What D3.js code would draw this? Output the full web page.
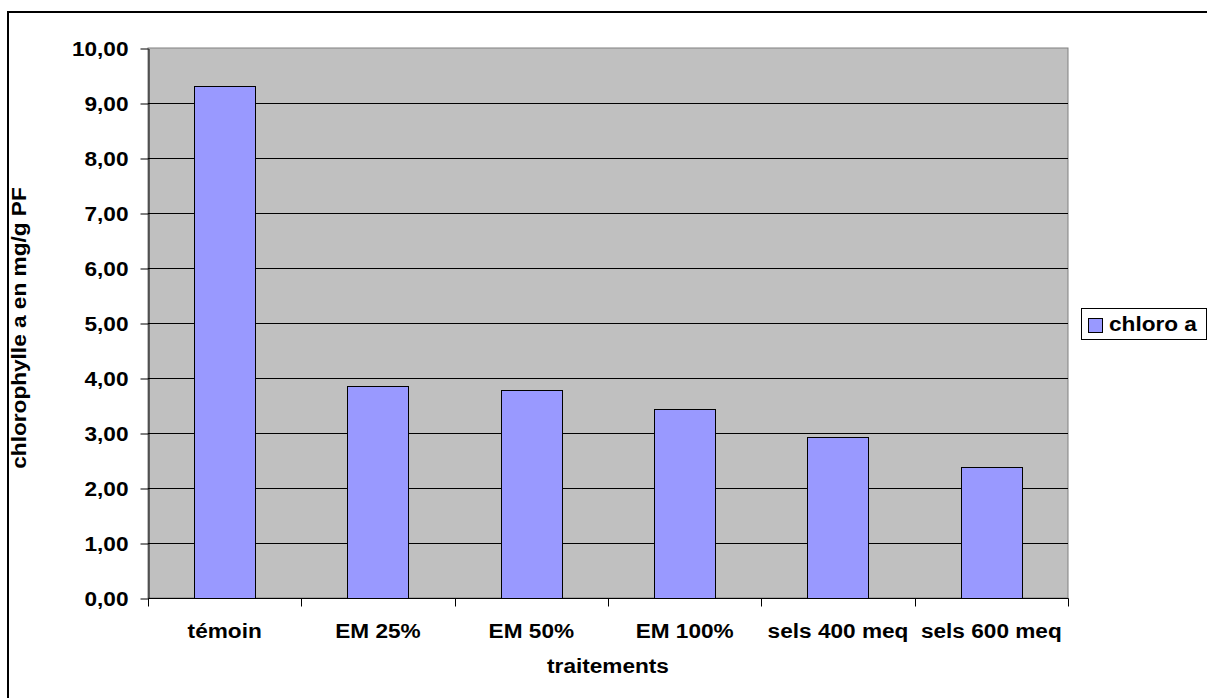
<!DOCTYPE html>
<html>
<head>
<meta charset="utf-8">
<script src="https://cdn.jsdelivr.net/npm/d3@7"></script>
<style>
  html, body { margin: 0; padding: 0; background: #fff; }
  svg { display: block; }
  text { font-family: "Liberation Sans", Arial, sans-serif; font-weight: bold; fill: #000; }
</style>
</head>
<body>
<svg id="chart" width="1207" height="698"></svg>
<script>
const categories = ["témoin", "EM 25%", "EM 50%", "EM 100%", "sels 400 meq", "sels 600 meq"];
const chloroA = [9.31, 3.85, 3.79, 3.43, 2.93, 2.39];
const yTicks = [0, 1, 2, 3, 4, 5, 6, 7, 8, 9, 10];
const seriesName = "chloro a";
const xTitle = "traitements";
const yTitle = "chlorophylle a en mg/g PF";

const svg = d3.select("#chart");
const W = 1207, H = 698;
const plot = { left: 148, right: 1068, top: 48, bottom: 598 };
const FS = 19.5, SX = 1.16;

// outer border (extends beyond right/bottom edge)
svg.append("rect").attr("x", 8).attr("y", 12).attr("width", 1230).attr("height", 720)
  .attr("fill", "#fff").attr("stroke", "#000").attr("stroke-width", 2);

const y = d3.scaleLinear().domain([0, 10]).range([plot.bottom, plot.top]);
const xCat = d3.scaleBand().domain(categories).range([plot.left, plot.right]).padding(0);
const xBar = d3.scaleBand().domain(categories).range([plot.left, plot.right])
  .paddingInner(0.6).paddingOuter(0.3);

// plot area
svg.append("rect").attr("x", plot.left).attr("y", plot.top)
  .attr("width", plot.right - plot.left).attr("height", plot.bottom - plot.top)
  .attr("fill", "#C0C0C0").attr("stroke", "#808080").attr("stroke-width", 1);

// gridlines
svg.append("g").selectAll("line").data(yTicks.filter(d => d > 0 && d < 10)).join("line")
  .attr("x1", plot.left).attr("x2", plot.right)
  .attr("y1", d => Math.round(y(d)) + 0.5).attr("y2", d => Math.round(y(d)) + 0.5)
  .attr("stroke", "#000").attr("stroke-width", 1);

// bars
svg.append("g").selectAll("rect").data(categories).join("rect")
  .attr("x", (d) => Math.round(xBar(d)) + 0.5)
  .attr("y", (d, i) => Math.round(y(chloroA[i])) + 0.5)
  .attr("width", Math.round(xBar.bandwidth()))
  .attr("height", (d, i) => Math.round(y(0)) - Math.round(y(chloroA[i])))
  .attr("fill", "#9999FF").attr("stroke", "#000").attr("stroke-width", 1);

const locale = d3.formatLocale({ decimal: ",", thousands: " ", grouping: [3], currency: ["", "€"] });
const fmt = locale.format(".2f");

// y axis
const yAxis = svg.append("g").attr("transform", `translate(${plot.left + 0.5},0.5)`)
  .call(d3.axisLeft(y).tickValues(yTicks).tickSize(8).tickSizeOuter(0).tickFormat(fmt));
yAxis.select(".domain").attr("stroke", "#000");
yAxis.selectAll(".tick line").attr("stroke", "#000");
yAxis.selectAll(".tick text")
  .attr("x", 0).attr("dy", "0.36em")
  .attr("transform", `translate(-20,0) scale(${SX},1)`)
  .style("font-size", FS + "px").style("font-family", "'Liberation Sans', Arial, sans-serif")
  .style("font-weight", "bold").attr("fill", "#000");

// x axis (ticks at category boundaries)
const xAxis = svg.append("g").attr("transform", `translate(0.5,${plot.bottom + 0.5})`);
xAxis.append("line").attr("x1", plot.left).attr("x2", plot.right).attr("stroke", "#000");
const boundaries = categories.map(c => xCat(c)).concat([xCat(categories[categories.length - 1]) + xCat.bandwidth()]);
xAxis.selectAll("line.tk").data(boundaries).join("line").attr("class", "tk")
  .attr("x1", d => Math.round(d)).attr("x2", d => Math.round(d))
  .attr("y1", 0).attr("y2", 8).attr("stroke", "#000");

svg.append("g").selectAll("text").data(categories).join("text")
  .attr("transform", d => `translate(${xCat(d) + xCat.bandwidth() / 2},638) scale(${SX},1)`)
  .attr("text-anchor", "middle").style("font-size", FS + "px")
  .text(d => d);

// axis titles
svg.append("text")
  .attr("transform", `translate(${(plot.left + plot.right) / 2},673) scale(${SX},1)`)
  .attr("text-anchor", "middle").style("font-size", FS + "px").text(xTitle);

svg.append("text")
  .attr("transform", `translate(26,${(plot.top + plot.bottom) / 2 + 5}) rotate(-90) scale(${SX},1)`)
  .attr("text-anchor", "middle").style("font-size", FS + "px").text(yTitle);

// legend
const lg = svg.append("g");
lg.append("rect").attr("x", 1081.5).attr("y", 308.5).attr("width", 125).attr("height", 31)
  .attr("fill", "#fff").attr("stroke", "#000").attr("stroke-width", 1);
lg.append("rect").attr("x", 1088.5).attr("y", 318.5).attr("width", 14).attr("height", 14)
  .attr("fill", "#9999FF").attr("stroke", "#000").attr("stroke-width", 1);
lg.append("text").attr("transform", `translate(1109,331) scale(${SX},1)`)
  .style("font-size", FS + "px").text(seriesName);
</script>
</body>
</html>
